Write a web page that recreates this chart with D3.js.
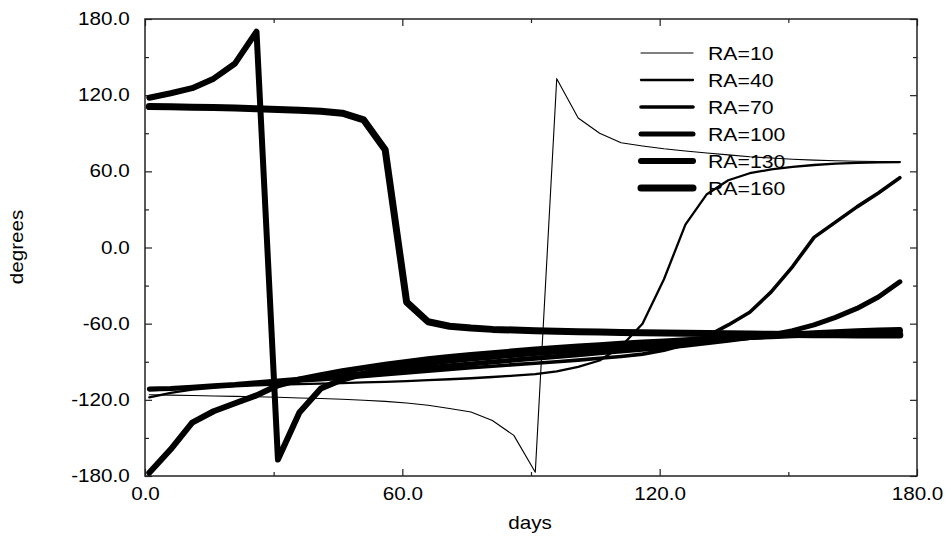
<!DOCTYPE html>
<html>
<head>
<meta charset="utf-8">
<script src="https://cdn.jsdelivr.net/npm/d3@7"></script>
<style>
  html, body { margin: 0; padding: 0; background: #fff; }
  svg { display: block; font-family: "Liberation Sans", Arial, Helvetica, sans-serif; }
</style>
</head>
<body>
<div id="chart"></div>
<script>
// days sampled every 5 days
const days = [1, 6, 11, 16, 21, 26, 31, 36, 41, 46, 51, 56, 61, 66, 71, 76, 81, 86,
  91, 96, 101, 106, 111, 116, 121, 126, 131, 136, 141, 146, 151, 156, 161, 166, 171, 176];

// angle (degrees) per series
const ra10 = [-116, -116.3, -116.6, -117, -117.3, -117.6, -118, -118.5, -119, -119.5, -120.3, -121.2,
  -122.5, -124.3, -126.8, -129.6, -136.3, -148, -177, 133, 102, 90, 82.5, 80, 77.8, 76, 74.5, 73,
  71.5, 70.5, 69.5, 68.8, 68.3, 68, 67.8, 67.6];
const ra40 = [-118, -114.5, -112, -110.5, -109.3, -108.5, -108, -107.7, -107.3, -106.8, -106.3, -105.8,
  -105.2, -104.5, -103.8, -103, -102, -101, -99.8, -97.5, -94, -89, -78, -60, -25, 18, 42, 53,
  58.5, 61.5, 63.5, 65, 66, 66.6, 67, 67.3];
const ra70 = [-112, -111.3, -110.5, -109.5, -108.5, -107.5, -106.3, -105.2, -104.2, -103, -101.6, -100.2,
  -98.8, -97.4, -96, -94.7, -93.5, -92.3, -91.2, -90, -88.7, -87.3, -85.8, -84, -81, -76.5, -70, -61,
  -51, -35, -15, 8, 20, 32, 43, 55];
const ra100 = [-111.5, -111, -110, -109, -108, -106.6, -105.2, -103.7, -102.2, -100.7, -99.2, -97.7,
  -96.2, -94.7, -93.2, -91.7, -90.2, -88.7, -87.2, -85.8, -84.4, -83, -81.6, -80.2, -78.7, -77, -75, -73,
  -71, -68.8, -65.5, -61, -55, -48, -39, -27];
const ra130 = [118, 121.5, 125.5, 133, 145, 170, -167, -130, -111, -104, -99.5, -96,
  -93.3, -91, -89, -87.5, -86, -84.5, -83.2, -82, -80.7, -79.4, -78.2, -77, -75.7, -74.4, -73, -71.8,
  -70.6, -69.5, -68.5, -67.5, -66.7, -66, -65.4, -65];
const ra160 = [111, 110.8, 110.5, 110.2, 109.8, 109.3, 108.8, 108.2, 107.4, 105.8, 100.5, 77,
  -43, -58.5, -62, -63.5, -64.5, -65, -65.5, -66, -66.3, -66.6, -67, -67.2, -67.4, -67.6, -67.8, -68,
  -68.2, -68.4, -68.6, -68.7, -68.8, -68.9, -69, -69];
// seventh curve in the plot, not listed in the legend
const raExtra = [-177.5, -159, -138, -129, -122.7, -116.5, -108.5, -104, -100.5, -97.5, -94.8, -92.3,
  -90.1, -88.1, -86.3, -84.7, -83.2, -81.8, -80.4, -79.2, -78, -76.9, -75.9, -74.9, -74, -73.1, -72.2, -71.4,
  -70.6, -69.9, -69.2, -68.5, -67.9, -67.3, -66.8, -66.3];

const legendLabels = ['RA=10', 'RA=40', 'RA=70', 'RA=100', 'RA=130', 'RA=160'];
const xTicks = [0, 60, 120, 180];
const yTicks = [-180, -120, -60, 0, 60, 120, 180];

const series = [
  { name: 'RA=10', values: ra10, w: 1.1 },
  { name: 'RA=40', values: ra40, w: 2.3 },
  { name: 'RA=70', values: ra70, w: 3.6 },
  { name: 'RA=100', values: ra100, w: 5 },
  { name: 'RA=130', values: ra130, w: 6 },
  { name: 'RA=160', values: ra160, w: 7 },
  { name: null, values: raExtra, w: 6 }
];

const W = 951, H = 539;
const margin = { top: 19, right: 34, bottom: 63, left: 145 };
const iw = W - margin.left - margin.right;
const ih = H - margin.top - margin.bottom;
const sx = 1.18; // text is a bit wide in the original

const svg = d3.select('#chart').append('svg')
  .attr('width', W)
  .attr('height', H);

const g = svg.append('g').attr('transform', `translate(${margin.left},${margin.top})`);

const x = d3.scaleLinear().domain([0, 180]).range([0, iw]);
const y = d3.scaleLinear().domain([-180, 180]).range([ih, 0]);

const fmt = d => d.toFixed(1);
const minorX = d3.range(0, 181, 30).filter(v => v % 60 !== 0);
const minorY = d3.range(-180, 181, 30).filter(v => v % 60 !== 0);

function styleAxis(sel) {
  sel.select('.domain').remove();
  sel.selectAll('line').attr('stroke', '#222').attr('stroke-width', 1.2);
  sel.selectAll('text')
    .attr('fill', '#000')
    .style('font-size', '17.5px')
    .attr('transform', `scale(${sx},1)`);
}

// bottom
g.append('g').attr('transform', `translate(0,${ih})`)
  .call(d3.axisBottom(x).tickValues(xTicks).tickFormat(fmt).tickSizeInner(-7).tickSizeOuter(0).tickPadding(12))
  .call(styleAxis)
  .call(s => s.selectAll('text').attr('y', 12));
g.append('g').attr('transform', `translate(0,${ih})`)
  .call(d3.axisBottom(x).tickValues(minorX).tickFormat('').tickSizeInner(-4).tickSizeOuter(0))
  .call(styleAxis);
// top
g.append('g')
  .call(d3.axisTop(x).tickValues(xTicks).tickFormat('').tickSizeInner(-7).tickSizeOuter(0))
  .call(styleAxis);
g.append('g')
  .call(d3.axisTop(x).tickValues(minorX).tickFormat('').tickSizeInner(-4).tickSizeOuter(0))
  .call(styleAxis);
// left
g.append('g')
  .call(d3.axisLeft(y).tickValues(yTicks).tickFormat(fmt).tickSizeInner(-7).tickSizeOuter(0))
  .call(styleAxis)
  .call(s => s.selectAll('text').attr('x', -13));
g.append('g')
  .call(d3.axisLeft(y).tickValues(minorY).tickFormat('').tickSizeInner(-4).tickSizeOuter(0))
  .call(styleAxis);
// right
g.append('g').attr('transform', `translate(${iw},0)`)
  .call(d3.axisRight(y).tickValues(yTicks).tickFormat('').tickSizeInner(-7).tickSizeOuter(0))
  .call(styleAxis);
g.append('g').attr('transform', `translate(${iw},0)`)
  .call(d3.axisRight(y).tickValues(minorY).tickFormat('').tickSizeInner(-4).tickSizeOuter(0))
  .call(styleAxis);

// frame
g.append('rect')
  .attr('width', iw).attr('height', ih)
  .attr('fill', 'none').attr('stroke', '#222').attr('stroke-width', 1.5);

// curves
const line = d3.line()
  .x((d, i) => x(days[i]))
  .y(d => y(d));

g.append('g').selectAll('path')
  .data(series)
  .enter()
  .append('path')
  .attr('d', d => line(d.values))
  .attr('fill', 'none')
  .attr('stroke', '#000')
  .attr('stroke-width', d => d.w)
  .attr('stroke-linejoin', 'round')
  .attr('stroke-linecap', 'round');

// legend
const legend = svg.append('g').attr('transform', 'translate(639,53)');
const rows = legend.selectAll('g')
  .data(series.filter(s => s.name))
  .enter()
  .append('g')
  .attr('transform', (d, i) => `translate(0,${i * 27})`);
rows.append('line')
  .attr('x1', 2).attr('x2', 54)
  .attr('stroke', '#000')
  .attr('stroke-width', d => d.w)
  .attr('stroke-linecap', 'round');
rows.append('text')
  .attr('transform', `translate(69,6.5) scale(${sx},1)`)
  .style('font-size', '18px')
  .text((d, i) => legendLabels[i]);

// axis titles
svg.append('text')
  .attr('transform', `translate(${margin.left + iw / 2 - 1},529) scale(${sx},1)`)
  .attr('text-anchor', 'middle')
  .style('font-size', '17.5px')
  .text('days');
svg.append('text')
  .attr('transform', `translate(23,247) rotate(-90) scale(${sx},1)`)
  .attr('text-anchor', 'middle')
  .style('font-size', '17.5px')
  .text('degrees');
</script>
</body>
</html>
